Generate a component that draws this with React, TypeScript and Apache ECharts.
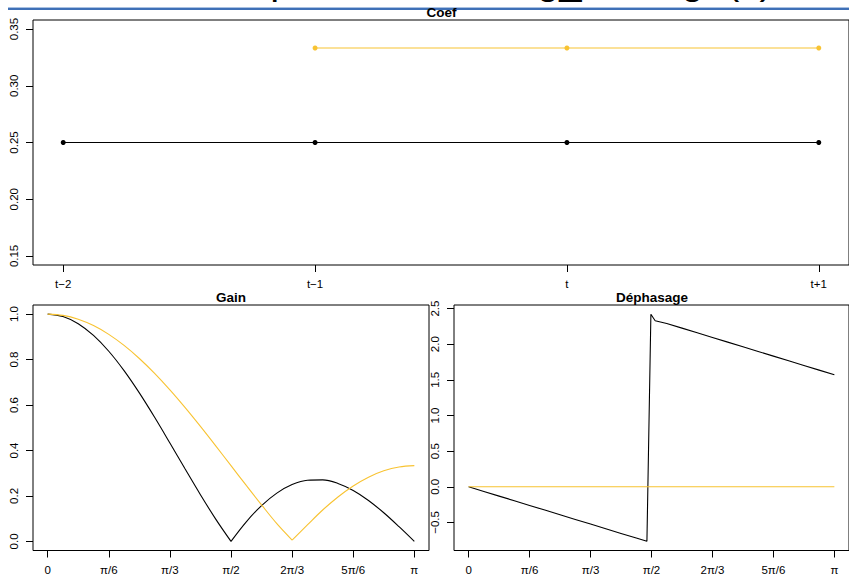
import React, { useEffect, useRef } from "react";
import * as echarts from "echarts";

// ---- data ----
const coefLabels = ["t−2", "t−1", "t", "t+1"];
const coefPos = [0, 1, 2, 3];
const coefMA4 = [0.25, 0.25, 0.25, 0.25];
const coefMA3 = [null, 0.3333, 0.3333, 0.3333];
const coefTicks = [0.15, 0.2, 0.25, 0.3, 0.35];

const freqLabels = ["0", "π/6", "π/3", "π/2", "2π/3", "5π/6", "π"];
const freqTicks = [0, 1, 2, 3, 4, 5, 6]; // in units of π/6

const freqX = [0, 0.25, 0.5, 0.75, 1, 1.25, 1.5, 1.75, 2, 2.25, 2.5, 2.75, 3, 3.25, 3.5, 3.75, 4, 4.25, 4.5, 4.75, 5, 5.25, 5.5, 5.75, 6];
const gainMA4 = [1, 0.9893, 0.9577, 0.9061, 0.8365, 0.7513, 0.6533, 0.546, 0.433, 0.3182, 0.2053, 0.0981, 0, 0.0861, 0.1576, 0.2126, 0.25, 0.2693, 0.2706, 0.255, 0.2241, 0.1802, 0.1261, 0.0648, 0];
const gainMA3 = [1, 0.9943, 0.9773, 0.9493, 0.9107, 0.8622, 0.8047, 0.7392, 0.6667, 0.5885, 0.5059, 0.4204, 0.3333, 0.2463, 0.1608, 0.0782, 0.006, 0.0725, 0.1381, 0.1956, 0.244, 0.2826, 0.3106, 0.3276, 0.3333];
const gainTicks = [0, 0.2, 0.4, 0.6, 0.8, 1.0];
// indices where a gain curve touches zero (the curve is drawn as smooth arcs between them)
const gainMA4Cusps = [12];
const gainMA3Cusps = [16];

const phaseX = [0, 0.25, 0.5, 0.75, 1, 1.25, 1.5, 1.75, 2, 2.25, 2.5, 2.75, 2.925, 2.99, 3.06, 3.25, 3.5, 3.75, 4, 4.25, 4.5, 4.75, 5, 5.25, 5.5, 5.75, 6];
const phaseMA4 = [0, -0.0654, -0.1309, -0.1963, -0.2618, -0.3272, -0.3927, -0.4581, -0.5236, -0.589, -0.6545, -0.7199, -0.7656, 2.42, 2.33, 2.2907, 2.2253, 2.1598, 2.0944, 2.0289, 1.9635, 1.898, 1.8326, 1.7671, 1.7017, 1.6362, 1.5708];
const phaseMA3 = [0, 0, 0, 0, 0, 0, 0, 0, 0, 0, 0, 0, 0, 0, 0, 0, 0, 0, 0, 0, 0, 0, 0, 0, 0];
const phaseTicks = [-0.5, 0, 0.5, 1, 1.5, 2, 2.5];

const pageTitle = "Exemple avec moving_average(x)";

const FONT = '"Liberation Sans", Arial, Helvetica, sans-serif';
const BLACK = "#000000";
const ORANGE = "#F8C332";
const LABEL_SIZE = 11.5;

const fmtNum = (d: number) => (v: number) => {
  const s = v.toFixed(d);
  return s.startsWith("-") ? "−" + s.slice(1) : s;
};

function xAxisCfg(gridIndex: number, min: number, max: number, ticks: number[], labels: string[]) {
  return {
    type: "value",
    gridIndex,
    min,
    max,
    axisLine: { show: false, onZero: false },
    splitLine: { show: false },
    axisTick: { show: true, customValues: ticks, length: 7, lineStyle: { color: BLACK, width: 1 } },
    axisLabel: {
      show: true,
      customValues: ticks,
      margin: 13,
      color: BLACK,
      fontFamily: FONT,
      fontSize: LABEL_SIZE,
      formatter: (v: number) => {
        const i = ticks.findIndex((t) => Math.abs(t - v) < 1e-9);
        return i >= 0 ? labels[i] : "";
      },
    },
  };
}

function yAxisCfg(gridIndex: number, min: number, max: number, ticks: number[], digits: number) {
  return {
    type: "value",
    gridIndex,
    min,
    max,
    axisLine: { show: false, onZero: false },
    splitLine: { show: false },
    axisTick: { show: true, customValues: ticks, length: 7, lineStyle: { color: BLACK, width: 1 } },
    axisLabel: {
      show: true,
      customValues: ticks,
      rotate: 90,
      margin: 13,
      color: BLACK,
      fontFamily: FONT,
      fontSize: LABEL_SIZE,
      formatter: fmtNum(digits),
    },
  };
}

function lineSeries(xi: number, yi: number, data: (number | null)[][], color: string, withSymbol: boolean, smooth: boolean | number) {
  return {
    type: "line",
    xAxisIndex: xi,
    yAxisIndex: yi,
    data: data.filter((p) => p[1] !== null),
    showSymbol: withSymbol,
    symbol: "circle",
    symbolSize: 5,
    itemStyle: { color },
    lineStyle: { color, width: 1.1 },
    smooth,
    silent: true,
  };
}

const pairs = (xs: number[], ys: (number | null)[]) => xs.map((x, i) => [x, ys[i]]);

// split a curve at its zero cusps so each arc can be drawn smoothly
function arcs(xs: number[], ys: number[], cusps: number[]) {
  const cuts = [0, ...cusps, xs.length - 1];
  const out: number[][][] = [];
  for (let i = 0; i < cuts.length - 1; i++) {
    out.push(pairs(xs.slice(cuts[i], cuts[i + 1] + 1), ys.slice(cuts[i], cuts[i + 1] + 1)) as number[][]);
  }
  return out;
}

export default function App() {
  const ref = useRef<HTMLDivElement>(null);
  useEffect(() => {
    if (!ref.current) return;
    const chart = echarts.init(ref.current, undefined, { renderer: "svg" });
    const titleFont = `bold 13.5px ${FONT}`;
    const gainSeries = [
      ...arcs(freqX, gainMA4, gainMA4Cusps).map((d) => lineSeries(1, 1, d, BLACK, false, 0.35)),
      ...arcs(freqX, gainMA3, gainMA3Cusps).map((d) => lineSeries(1, 1, d, ORANGE, false, 0.35)),
    ];
    chart.setOption({
      animation: false,
      backgroundColor: "#ffffff",
      grid: [
        { left: 33, top: 20, width: 817, height: 245, show: true, borderColor: BLACK, borderWidth: 1, backgroundColor: "transparent", containLabel: false },
        { left: 33, top: 305, width: 396, height: 245.5, show: true, borderColor: BLACK, borderWidth: 1, backgroundColor: "transparent", containLabel: false },
        { left: 454, top: 305, width: 396, height: 245.5, show: true, borderColor: BLACK, borderWidth: 1, backgroundColor: "transparent", containLabel: false },
      ],
      xAxis: [
        xAxisCfg(0, -0.12, 3.12, coefPos, coefLabels),
        xAxisCfg(1, -0.24, 6.24, freqTicks, freqLabels),
        xAxisCfg(2, -0.24, 6.24, freqTicks, freqLabels),
      ],
      yAxis: [
        yAxisCfg(0, 0.142, 0.358, coefTicks, 2),
        yAxisCfg(1, -0.04, 1.04, gainTicks, 1),
        yAxisCfg(2, -0.894, 2.55, phaseTicks, 1),
      ],
      series: [
        lineSeries(0, 0, pairs(coefPos, coefMA4), BLACK, true, false),
        lineSeries(0, 0, pairs(coefPos, coefMA3), ORANGE, true, false),
        ...gainSeries,
        lineSeries(2, 2, pairs(phaseX, phaseMA4), BLACK, false, false),
        lineSeries(2, 2, pairs(freqX, phaseMA3), ORANGE, false, false),
      ],
      graphic: [
        {
          type: "text",
          x: 168,
          y: -40,
          style: { text: pageTitle, fill: "#000", font: `40px ${FONT}`, textAlign: "left", textVerticalAlign: "top", align: "left", verticalAlign: "top" },
          z: 1,
        },
        { type: "rect", shape: { x: 8, y: 7, width: 841, height: 1 }, style: { fill: "#A9C1E2" }, z: 10 },
        { type: "rect", shape: { x: 8, y: 8, width: 841, height: 2 }, style: { fill: "#3F70B7" }, z: 10 },
        { type: "text", x: 441.5, y: 12.5, style: { text: "Coef", fill: "#000", font: titleFont, textAlign: "center", textVerticalAlign: "middle", align: "center", verticalAlign: "middle" }, z: 20 },
        { type: "text", x: 231, y: 297.5, style: { text: "Gain", fill: "#000", font: titleFont, textAlign: "center", textVerticalAlign: "middle", align: "center", verticalAlign: "middle" }, z: 20 },
        { type: "text", x: 652, y: 297.5, style: { text: "Déphasage", fill: "#000", font: titleFont, textAlign: "center", textVerticalAlign: "middle", align: "center", verticalAlign: "middle" }, z: 20 },
      ],
    });
    return () => chart.dispose();
  }, []);
  return (
    <div
      ref={ref}
      style={{ position: "fixed", left: 0, top: 0, width: 849, height: 576, background: "#fff" }}
    />
  );
}
